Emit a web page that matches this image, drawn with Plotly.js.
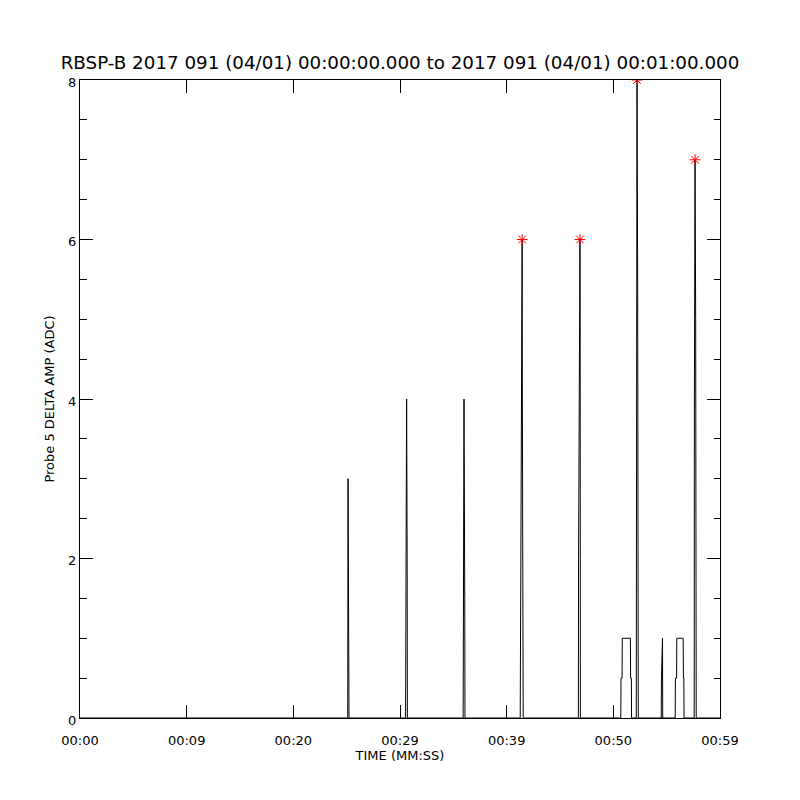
<!DOCTYPE html>
<html>
<head>
<meta charset="utf-8">
<script src="https://cdn.plot.ly/plotly-3.0.1.min.js"></script>
<style>html,body{margin:0;padding:0;background:#fff;}#chart{width:800px;height:800px;}</style>
</head>
<body>
<div id="chart"></div>
<script>
// Time in seconds since 00:00:00.000 and amplitude in ADC counts
var timeSec = [0,
  25.10, 25.13, 25.20, 25.22,
  30.52, 30.54, 30.62, 30.67, 30.69,
  35.92, 35.94, 36.00, 36.07, 36.09,
  41.27, 41.29, 41.45, 41.47, 41.53, 41.55,
  46.72, 46.74, 46.87, 46.89, 46.91,
  50.70, 50.72, 50.82, 50.84, 51.60, 51.62, 51.69, 51.71,
  52.15, 52.22, 52.28, 52.34,
  54.49, 54.51, 54.61, 54.63,
  55.80, 55.82, 55.93, 55.95, 56.55, 56.57, 56.61, 56.63,
  57.58, 57.60, 57.66, 57.72, 57.77,
  60];
var ampAdc = [0,
  0, 3, 1.5, 0,
  0, 1, 4, 2, 0,
  0, 2, 4, 1.5, 0,
  0, 1, 6, 4, 0.5, 0,
  0, 2, 6, 5, 0,
  0, 0.5, 0.5, 1, 1, 0.5, 0.5, 0,
  0, 8, 5.5, 0,
  0, 0.5, 1, 0,
  0, 0.5, 0.5, 1, 1, 0.5, 0.5, 0,
  0, 4, 7, 5, 0,
  0];
var peakThreshold = 6;
var xTickSec = [0, 10, 20, 30, 40, 50, 60];
var xTickText = ['00:00', '00:09', '00:20', '00:29', '00:39', '00:50', '00:59'];
var yTickVals = [0, 2, 4, 6, 8];

var peakT = [], peakA = [];
for (var i = 0; i < timeSec.length; i++) {
  if (ampAdc[i] >= peakThreshold) { peakT.push(timeSec[i]); peakA.push(ampAdc[i]); }
}

var fontFam = 'DejaVu Sans, Liberation Sans, sans-serif';
var traces = [
  {x: timeSec, y: ampAdc, type: 'scatter', mode: 'lines',
   line: {color: '#000', width: 1}, hoverinfo: 'skip', showlegend: false},
  {x: peakT, y: peakA, type: 'scatter', mode: 'markers',
   marker: {symbol: 'asterisk-open', size: 9, color: '#ff0000', line: {color: '#ff0000', width: 1}},
   showlegend: false}
];
var layout = {
  width: 800, height: 800,
  margin: {l: 80, r: 80, t: 80, b: 82},
  paper_bgcolor: '#fff', plot_bgcolor: '#fff',
  font: {family: fontFam, color: '#000', size: 13},
  title: {text: 'RBSP-B 2017 091 (04/01) 00:00:00.000 to 2017 091 (04/01) 00:01:00.000',
    font: {family: fontFam, size: 18.3, color: '#000'},
    x: 0.5, xanchor: 'center', xref: 'container', y: 1 - 63/800, yanchor: 'middle', yref: 'container'},
  xaxis: {range: [0, 60], tickmode: 'array', tickvals: xTickSec, ticktext: xTickText,
    ticks: 'inside', ticklen: 13, tickwidth: 1, tickcolor: '#000',
    showline: true, linecolor: '#000', linewidth: 1, mirror: 'allticks',
    showgrid: false, zeroline: false, ticklabelstandoff: 10,
    tickfont: {family: fontFam, size: 13, color: '#000'},
    title: {text: 'TIME (MM:SS)', font: {family: fontFam, size: 13, color: '#000'}, standoff: 3}},
  yaxis: {range: [0, 8], tickmode: 'array', tickvals: yTickVals,
    ticks: 'inside', ticklen: 13, tickwidth: 1, tickcolor: '#000',
    minor: {dtick: 0.5, tick0: 0, ticks: 'inside', ticklen: 6.5, tickwidth: 1, tickcolor: '#000', showgrid: false},
    showline: true, linecolor: '#000', linewidth: 1, mirror: 'allticks',
    showgrid: false, zeroline: false, ticklabelshift: 2,
    tickfont: {family: fontFam, size: 13, color: '#000'},
    title: {text: 'Probe 5 DELTA AMP (ADC)', font: {family: fontFam, size: 13, color: '#000'}, standoff: 10}}
};
Plotly.newPlot('chart', traces, layout, {staticPlot: true, displayModeBar: false});
</script>
</body>
</html>
